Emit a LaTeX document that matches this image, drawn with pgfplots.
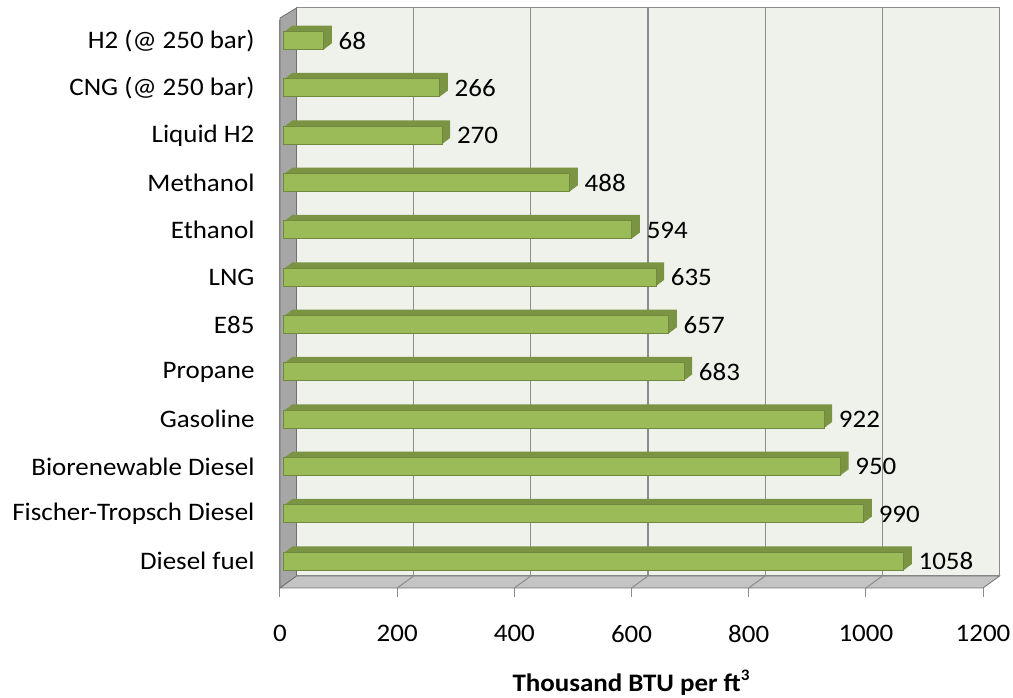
\documentclass[border=0pt]{standalone}
\usepackage{pgfplots}
\pgfplotsset{compat=1.18}
\usepackage{pgfplotstable}
\usepackage{fontspec}
\setmainfont{Carlito}[FakeStretch=1.07]

\definecolor{barfront}{HTML}{9BBB59}
\definecolor{barborder}{HTML}{71893F}
\definecolor{bardepth}{HTML}{7A9443}
\definecolor{backwall}{HTML}{EFF2EA}
\definecolor{sidewall}{HTML}{A6A6A6}
\definecolor{floorcol}{HTML}{C4C4C4}
\definecolor{gridcol}{HTML}{8C8C8C}

% volumetric energy density, thousand BTU per cubic foot
\pgfplotstableread{
pos val
1  1058
2  990
3  950
4  922
5  683
6  657
7  635
8  594
9  488
10 270
11 266
12 68
}\energy

\begin{document}
\begin{tikzpicture}[font=\fontsize{25.2pt}{30pt}\selectfont]
\useasboundingbox (0,0) rectangle (1013pt,698pt);
\begin{axis}[
  at={(280pt,110pt)}, anchor=south west,
  scale only axis, width=703pt, height=568pt,
  xmin=0, xmax=1200, ymin=0.5, ymax=12.5,
  axis x line*=bottom, axis y line*=left,
  axis line style={draw=gridcol, line width=1pt, -},
  xtick={0,200,...,1200},
  ytick={1,...,12},
  yticklabels={Diesel fuel, Fischer-Tropsch Diesel, Biorenewable Diesel, Gasoline, Propane, E85, LNG, Ethanol, Methanol, Liquid H2, {CNG (@ 250 bar)}, {H2 (@ 250 bar)}},
  minor ytick={0.5,1.5,...,12.5},
  tick align=outside,
  major tick length=9pt,
  minor tick length=9pt,
  ytick style={draw=none},
  minor tick style={draw=gridcol, line width=1pt},
  xtick style={draw=gridcol, line width=1pt},
  /pgf/number format/assume math mode=true,
  /pgf/number format/1000 sep={},
  scaled x ticks=false,
  tick label style={font=\fontsize{25.2pt}{30pt}\selectfont, text=black},
  xticklabel style={yshift=-25pt},
  yticklabel style={xshift=-13pt, yshift=3pt},
  clip=false,
]
% back wall, side wall and floor of the box
\fill[backwall, draw=gridcol, line width=1pt]
  ([xshift=16.5pt,yshift=12pt]axis cs:0,0.5) rectangle ([xshift=16.5pt,yshift=12pt]axis cs:1200,12.5);
\fill[sidewall, draw=gridcol!80!black, line width=0.8pt]
  (axis cs:0,0.5) -- ([xshift=16.5pt,yshift=12pt]axis cs:0,0.5)
  -- ([xshift=16.5pt,yshift=12pt]axis cs:0,12.5) -- ([yshift=2pt]axis cs:0,12.5) -- cycle;
\fill[floorcol, draw=gridcol!80!black, line width=0.8pt]
  (axis cs:0,0.5) -- (axis cs:1200,0.5)
  -- ([xshift=16.5pt,yshift=12pt]axis cs:1200,0.5) -- ([xshift=16.5pt,yshift=12pt]axis cs:0,0.5) -- cycle;
\pgfplotsinvokeforeach{200,400,600,800,1000}{
  \draw[gridcol, line width=1.3pt]
    ([xshift=16.5pt,yshift=12pt]axis cs:#1,0.5) -- ([xshift=16.5pt,yshift=12pt]axis cs:#1,12.5);
  \draw[gridcol, line width=1pt]
    (axis cs:#1,0.5) -- ([xshift=16.5pt,yshift=12pt]axis cs:#1,0.5);
}
% depth of the bars
\pgfplotsinvokeforeach{8,7,...,1}{
  \addplot[xbar, bar width=18pt, fill=bardepth, draw=none,
    xshift=4pt+#1*1pt, yshift=3pt+#1*0.75pt, forget plot]
    table[x=val, y=pos] {\energy};
}
% front faces with their values
\addplot[xbar, bar width=18pt, fill=barfront, draw=barborder, line width=1pt,
  xshift=4pt, yshift=3pt,
  nodes near coords, point meta=explicit symbolic,
  every node near coord/.append style={anchor=west, xshift=11pt, text=black,
    font=\fontsize{25.2pt}{30pt}\selectfont}]
  table[x=val, y=pos, meta=val] {\energy};
\end{axis}
\node at (631pt,15pt) {\bfseries Thousand BTU per ft\raisebox{0.42em}{\fontsize{16pt}{16pt}\selectfont\bfseries 3}};
\end{tikzpicture}
\end{document}
